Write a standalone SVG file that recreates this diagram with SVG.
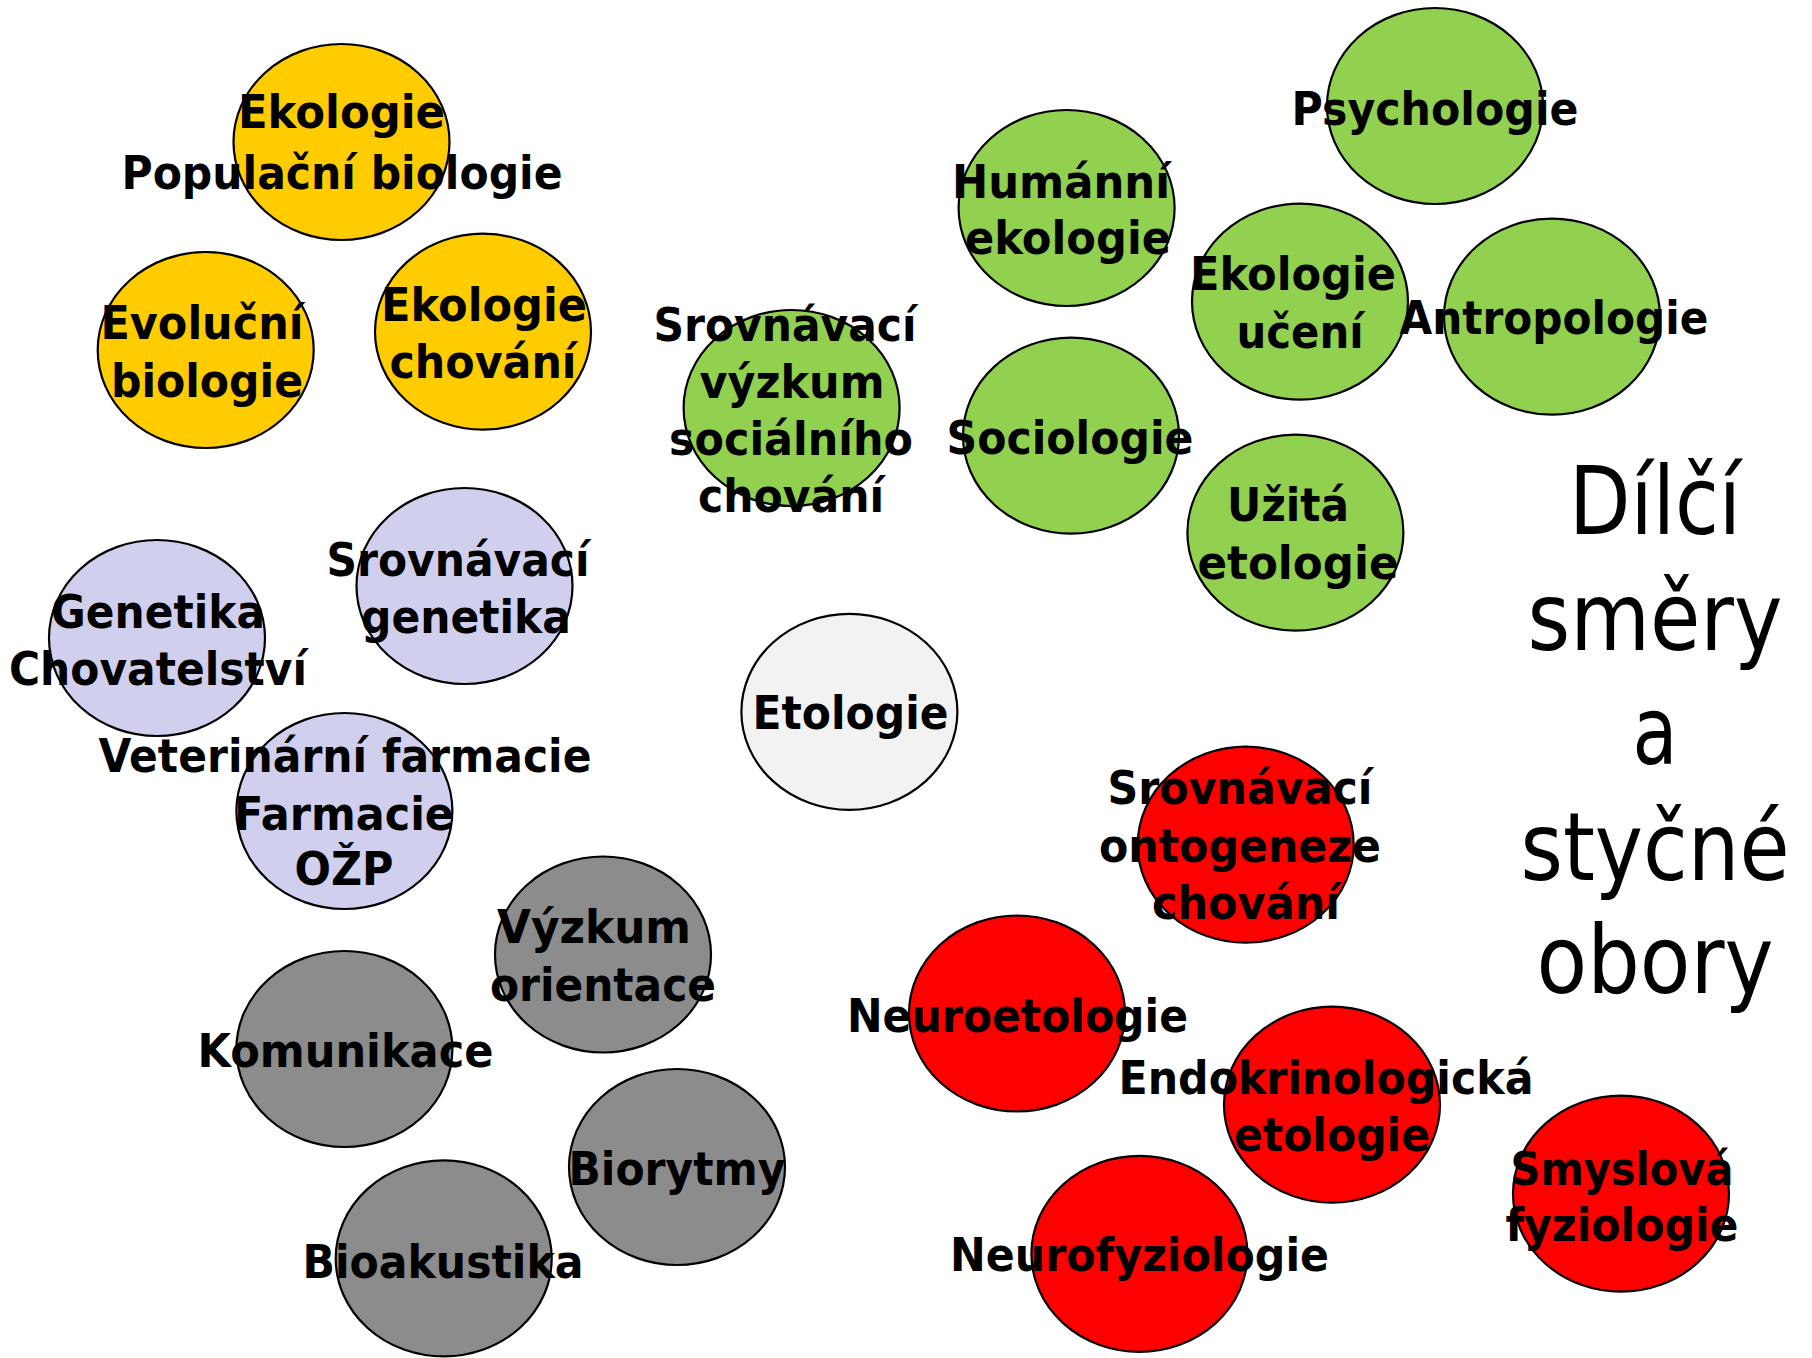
<svg xmlns="http://www.w3.org/2000/svg" width="1812" height="1358" viewBox="0 0 1812 1358">
<style>
.n{stroke:#000;stroke-width:2.2}
.y{fill:#FFCC00}.g{fill:#92D050}.l{fill:#D0D0EE}.e{fill:#F2F2F2}.r{fill:#FF0000}.k{fill:#8C8C8C}
.t{font-family:"DejaVu Sans","Verdana",sans-serif;font-weight:bold;font-size:46.5px;fill:#000;text-anchor:middle}
.h{font-family:"DejaVu Sans","Verdana",sans-serif;font-size:95px;fill:#000;text-anchor:middle}
</style>
<rect width="1812" height="1358" fill="#fff"/>
<g id="connectors"></g>
<g id="ekologie-populacni">
<ellipse class="n y" cx="341.5" cy="142" rx="108" ry="98"/>
<text class="t" x="341.5" y="128" textLength="207" lengthAdjust="spacingAndGlyphs">Ekologie</text>
<text class="t" x="342" y="189" textLength="441" lengthAdjust="spacingAndGlyphs">Populační biologie</text>
</g>
<g id="evolucni-biologie">
<ellipse class="n y" cx="205.7" cy="350" rx="108" ry="98"/>
<text class="t" x="202" y="339" textLength="203" lengthAdjust="spacingAndGlyphs">Evoluční</text>
<text class="t" x="207" y="397" textLength="192" lengthAdjust="spacingAndGlyphs">biologie</text>
</g>
<g id="ekologie-chovani">
<ellipse class="n y" cx="483" cy="331.7" rx="108" ry="98"/>
<text class="t" x="484" y="321" textLength="206" lengthAdjust="spacingAndGlyphs">Ekologie</text>
<text class="t" x="483" y="378" textLength="187" lengthAdjust="spacingAndGlyphs">chování</text>
</g>
<g id="psychologie">
<ellipse class="n g" cx="1435" cy="106" rx="108" ry="98"/>
<text class="t" x="1435" y="125" textLength="287" lengthAdjust="spacingAndGlyphs">Psychologie</text>
</g>
<g id="humanni-ekologie">
<ellipse class="n g" cx="1066.6" cy="208" rx="108" ry="98"/>
<text class="t" x="1061" y="198" textLength="218" lengthAdjust="spacingAndGlyphs">Humánní</text>
<text class="t" x="1068" y="254" textLength="206" lengthAdjust="spacingAndGlyphs">ekologie</text>
</g>
<g id="ekologie-uceni">
<ellipse class="n g" cx="1300" cy="301.6" rx="108" ry="98"/>
<text class="t" x="1293" y="290" textLength="206" lengthAdjust="spacingAndGlyphs">Ekologie</text>
<text class="t" x="1300" y="348" textLength="127" lengthAdjust="spacingAndGlyphs">učení</text>
</g>
<g id="antropologie">
<ellipse class="n g" cx="1552" cy="316.6" rx="108" ry="98"/>
<text class="t" x="1554" y="334" textLength="309" lengthAdjust="spacingAndGlyphs">Antropologie</text>
</g>
<g id="srovnavaci-vyzkum">
<ellipse class="n g" cx="791.6" cy="408" rx="108" ry="98"/>
<text class="t" x="785" y="341" textLength="263" lengthAdjust="spacingAndGlyphs">Srovnávací</text>
<text class="t" x="792" y="398" textLength="185" lengthAdjust="spacingAndGlyphs">výzkum</text>
<text class="t" x="791" y="455" textLength="244" lengthAdjust="spacingAndGlyphs">sociálního</text>
<text class="t" x="791" y="512" textLength="186" lengthAdjust="spacingAndGlyphs">chování</text>
</g>
<g id="sociologie">
<ellipse class="n g" cx="1071" cy="435.7" rx="108" ry="98"/>
<text class="t" x="1070" y="454" textLength="247" lengthAdjust="spacingAndGlyphs">Sociologie</text>
</g>
<g id="uzita-etologie">
<ellipse class="n g" cx="1295.4" cy="532.7" rx="108" ry="98"/>
<text class="t" x="1288" y="521" textLength="122" lengthAdjust="spacingAndGlyphs">Užitá</text>
<text class="t" x="1298" y="579" textLength="201" lengthAdjust="spacingAndGlyphs">etologie</text>
</g>
<g id="genetika-chovatelstvi">
<ellipse class="n l" cx="157" cy="638" rx="108" ry="98"/>
<text class="t" x="158" y="628" textLength="214" lengthAdjust="spacingAndGlyphs">Genetika</text>
<text class="t" x="158" y="685" textLength="298" lengthAdjust="spacingAndGlyphs">Chovatelství</text>
</g>
<g id="srovnavaci-genetika">
<ellipse class="n l" cx="464.5" cy="586" rx="108" ry="98"/>
<text class="t" x="458" y="576" textLength="263" lengthAdjust="spacingAndGlyphs">Srovnávací</text>
<text class="t" x="466" y="633" textLength="210" lengthAdjust="spacingAndGlyphs">genetika</text>
</g>
<g id="farmacie">
<ellipse class="n l" cx="344.4" cy="811" rx="108" ry="98"/>
<text class="t" x="345" y="772" textLength="493" lengthAdjust="spacingAndGlyphs">Veterinární farmacie</text>
<text class="t" x="344" y="830" textLength="220" lengthAdjust="spacingAndGlyphs">Farmacie</text>
<text class="t" x="344" y="885" textLength="99" lengthAdjust="spacingAndGlyphs">OŽP</text>
</g>
<g id="etologie">
<ellipse class="n e" cx="849.4" cy="711.8" rx="108" ry="98"/>
<text class="t" x="850.5" y="728.5" textLength="196" lengthAdjust="spacingAndGlyphs">Etologie</text>
</g>
<g id="srovnavaci-ontogeneze">
<ellipse class="n r" cx="1245.7" cy="844.7" rx="108" ry="98"/>
<text class="t" x="1240" y="804" textLength="265" lengthAdjust="spacingAndGlyphs">Srovnávací</text>
<text class="t" x="1240" y="862" textLength="282" lengthAdjust="spacingAndGlyphs">ontogeneze</text>
<text class="t" x="1246" y="919" textLength="188" lengthAdjust="spacingAndGlyphs">chování</text>
</g>
<g id="neuroetologie">
<ellipse class="n r" cx="1017" cy="1013.5" rx="108" ry="98"/>
<text class="t" x="1017.5" y="1032" textLength="341" lengthAdjust="spacingAndGlyphs">Neuroetologie</text>
</g>
<g id="endokrinologicka-etologie">
<ellipse class="n r" cx="1332" cy="1104.7" rx="108" ry="98"/>
<text class="t" x="1326" y="1094" textLength="415" lengthAdjust="spacingAndGlyphs">Endokrinologická</text>
<text class="t" x="1332" y="1151" textLength="196" lengthAdjust="spacingAndGlyphs">etologie</text>
</g>
<g id="smyslova-fyziologie">
<ellipse class="n r" cx="1621" cy="1193.7" rx="108" ry="98"/>
<text class="t" x="1622" y="1185" textLength="223" lengthAdjust="spacingAndGlyphs">Smyslová</text>
<text class="t" x="1622" y="1241" textLength="233" lengthAdjust="spacingAndGlyphs">fyziologie</text>
</g>
<g id="neurofyziologie">
<ellipse class="n r" cx="1139.4" cy="1253.8" rx="108" ry="98"/>
<text class="t" x="1139.5" y="1271" textLength="379" lengthAdjust="spacingAndGlyphs">Neurofyziologie</text>
</g>
<g id="vyzkum-orientace">
<ellipse class="n k" cx="603" cy="954.5" rx="108" ry="98"/>
<text class="t" x="594" y="943" textLength="194" lengthAdjust="spacingAndGlyphs">Výzkum</text>
<text class="t" x="603" y="1001" textLength="226" lengthAdjust="spacingAndGlyphs">orientace</text>
</g>
<g id="komunikace">
<ellipse class="n k" cx="344.4" cy="1049" rx="108" ry="98"/>
<text class="t" x="345.5" y="1067" textLength="296" lengthAdjust="spacingAndGlyphs">Komunikace</text>
</g>
<g id="biorytmy">
<ellipse class="n k" cx="677" cy="1167" rx="108" ry="98"/>
<text class="t" x="677" y="1185" textLength="217" lengthAdjust="spacingAndGlyphs">Biorytmy</text>
</g>
<g id="bioakustika">
<ellipse class="n k" cx="443.7" cy="1258.4" rx="108" ry="98"/>
<text class="t" x="443" y="1278" textLength="281" lengthAdjust="spacingAndGlyphs">Bioakustika</text>
</g>
<g id="title">
<text class="h" x="1655" y="534" textLength="172" lengthAdjust="spacingAndGlyphs">Dílčí</text>
<text class="h" x="1655" y="650" textLength="255" lengthAdjust="spacingAndGlyphs">směry</text>
<text class="h" x="1655" y="764" textLength="45" lengthAdjust="spacingAndGlyphs">a</text>
<text class="h" x="1655" y="880" textLength="269" lengthAdjust="spacingAndGlyphs">styčné</text>
<text class="h" x="1655" y="993" textLength="237" lengthAdjust="spacingAndGlyphs">obory</text>
</g>
</svg>
